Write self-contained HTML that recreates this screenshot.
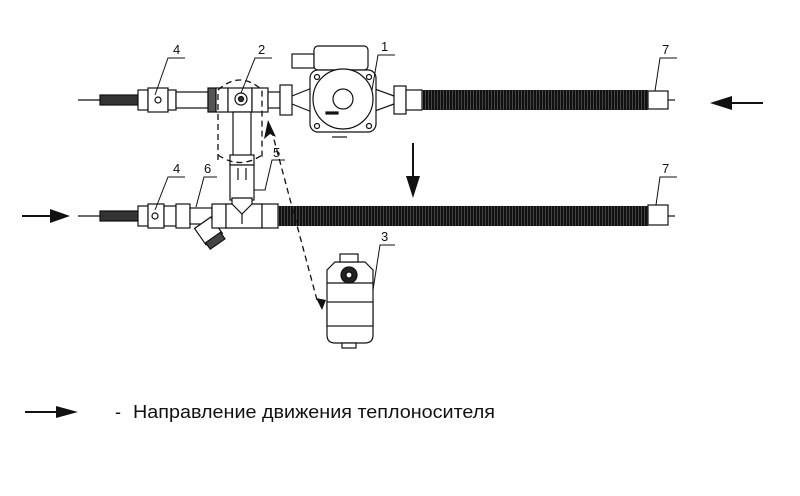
<!DOCTYPE html>
<html><head><meta charset="utf-8"><style>
html,body{margin:0;padding:0;background:#fff;width:800px;height:496px;overflow:hidden}
svg{display:block}
text{font-family:"Liberation Sans","DejaVu Sans",sans-serif}
</style></head><body>
<svg width="800" height="496" viewBox="0 0 800 496" xmlns="http://www.w3.org/2000/svg">
<defs>
<pattern id="corr" width="3" height="20" patternUnits="userSpaceOnUse"><rect width="3" height="20" fill="#111"/><rect x="2" width="1" height="20" fill="#444"/></pattern>
</defs>
<g stroke="#111" stroke-width="1.2" fill="#fff">
<!-- TOP LINE -->
<line x1="78" y1="100" x2="110" y2="100"/>
<rect x="100" y="95" width="45" height="10" fill="#333"/>
<rect x="138" y="90" width="10" height="20"/>
<rect x="148" y="88" width="20" height="24"/>
<circle cx="158" cy="100" r="3"/>
<rect x="168" y="90" width="8" height="20"/>
<rect x="176" y="92" width="32" height="16"/>
<rect x="208" y="88" width="8" height="24" fill="#555"/>
<rect x="216" y="88" width="12" height="24"/>
<rect x="228" y="88" width="24" height="24"/>
<circle cx="241" cy="99" r="6"/><circle cx="241" cy="99" r="2.5" fill="#333"/>
<rect x="252" y="88" width="16" height="24"/>
<rect x="268" y="92" width="12" height="16"/>
<rect x="280" y="85" width="12" height="30"/>
<line x1="292" y1="96" x2="312" y2="88"/><line x1="292" y1="104" x2="312" y2="112"/>
<line x1="372" y1="88" x2="394" y2="96"/><line x1="372" y1="112" x2="394" y2="104"/>
<rect x="292" y="54" width="22" height="14"/>
<rect x="314" y="46" width="54" height="24" rx="4"/>
<rect x="310" y="70" width="66" height="62" rx="8"/>
<circle cx="343" cy="99" r="30"/>
<circle cx="343" cy="99" r="10"/>
<circle cx="317" cy="77" r="2.5"/><circle cx="369" cy="77" r="2.5"/><circle cx="317" cy="126" r="2.5"/><circle cx="369" cy="126" r="2.5"/>
<rect x="326" y="112" width="12" height="2" fill="#111"/>
<line x1="332" y1="137" x2="347" y2="137"/>
<rect x="394" y="86" width="12" height="28"/>
<rect x="406" y="90" width="16" height="20"/>
<rect x="422" y="90" width="226" height="20" fill="url(#corr)" stroke="none"/>
<rect x="648" y="91" width="20" height="18"/>
<line x1="668" y1="100" x2="675" y2="100"/>
<!-- vertical -->
<rect x="233" y="112" width="18" height="45"/>
<rect x="230" y="155" width="24" height="10"/>
<rect x="230" y="165" width="24" height="35"/>
<line x1="238" y1="168" x2="238" y2="180"/><line x1="246" y1="168" x2="246" y2="180"/>
<!-- BOTTOM LINE -->
<line x1="78" y1="216" x2="110" y2="216"/>
<rect x="100" y="211" width="45" height="10" fill="#333"/>
<rect x="138" y="206" width="10" height="20"/>
<rect x="148" y="204" width="16" height="24"/>
<circle cx="155" cy="216" r="3"/>
<rect x="164" y="206" width="12" height="20"/>
<rect x="176" y="204" width="14" height="24"/>
<rect x="190" y="208" width="22" height="16"/>
<g transform="rotate(-35 205 226)"><rect x="195" y="222" width="20" height="20"/><rect x="196" y="240" width="18" height="8" fill="#444"/></g>
<rect x="212" y="204" width="14" height="24"/>
<path d="M226 204 H232 V198 H252 V204 H262 V228 H226 Z"/>
<path d="M232 204 L242 214 L252 204"/>
<line x1="242" y1="214" x2="242" y2="224"/>
<rect x="262" y="204" width="16" height="24"/>
<rect x="278" y="206" width="370" height="20" fill="url(#corr)" stroke="none"/>
<rect x="648" y="205" width="20" height="20"/>
<line x1="668" y1="216" x2="675" y2="216"/>
<!-- actuator -->
<path d="M335 262 h30 l8 8 v65 q0 8 -8 8 h-30 q-8 0 -8 -8 v-65 z"/>
<rect x="340" y="254" width="18" height="8"/>
<line x1="327" y1="283" x2="373" y2="283"/>
<rect x="327" y="302" width="46" height="24"/>
<circle cx="349" cy="275" r="8" fill="#222"/><circle cx="349" cy="275" r="3"/>
<rect x="342" y="343" width="14" height="5"/>
</g>
<!-- dashed -->
<g stroke="#111" stroke-width="1.3" fill="none" stroke-dasharray="6,4">
<path d="M218 160 V90 Q240 70 262 90 V160"/>
<path d="M218 155 Q240 170 262 155"/>
<line x1="317" y1="300" x2="272" y2="132"/>
</g>
<path d="M268 120 L276 137 L270 134 L264 139 Z" fill="#111"/>
<path d="M316 298 L322 310 L326 300 Z" fill="#111"/>
<!-- arrows -->
<g fill="#111" stroke="#111" stroke-width="2">
<line x1="730" y1="103" x2="763" y2="103"/><path d="M710 103 L732 96 L732 110 Z" stroke="none"/>
<line x1="22" y1="216" x2="52" y2="216"/><path d="M70 216 L50 209 L50 223 Z" stroke="none"/>
<line x1="413" y1="143" x2="413" y2="178"/><path d="M413 198 L406 176 L420 176 Z" stroke="none"/>
<line x1="25" y1="412" x2="58" y2="412"/><path d="M78 412 L56 406 L56 418 Z" stroke="none"/>
</g>
<!-- leaders -->
<g stroke="#111" stroke-width="1" fill="none">
<path d="M155 95 L168 58 H185"/>
<path d="M241 93 L255 58 H272"/>
<path d="M372 90 L378 55 H395"/>
<path d="M655 91 L660 58 H677"/>
<path d="M155 210 L168 177 H185"/>
<path d="M196 207 L204 177 H217"/>
<path d="M254 190 H265 L272 160 H285"/>
<path d="M656 205 L660 177 H677"/>
<path d="M373 290 L380 245 H395"/>
</g>
<g font-size="13" fill="#111">
<text x="173" y="54">4</text><text x="258" y="54">2</text><text x="381" y="51">1</text><text x="662" y="54">7</text>
<text x="173" y="173">4</text><text x="204" y="173">6</text><text x="273" y="157">5</text><text x="662" y="173">7</text>
<text x="381" y="241">3</text>
</g>
<text x="115" y="418" font-size="18" fill="#111">-</text>
<text x="133" y="418" font-size="18" fill="#111" textLength="362" lengthAdjust="spacingAndGlyphs">Направление движения теплоносителя</text>
</svg>
</body></html>
